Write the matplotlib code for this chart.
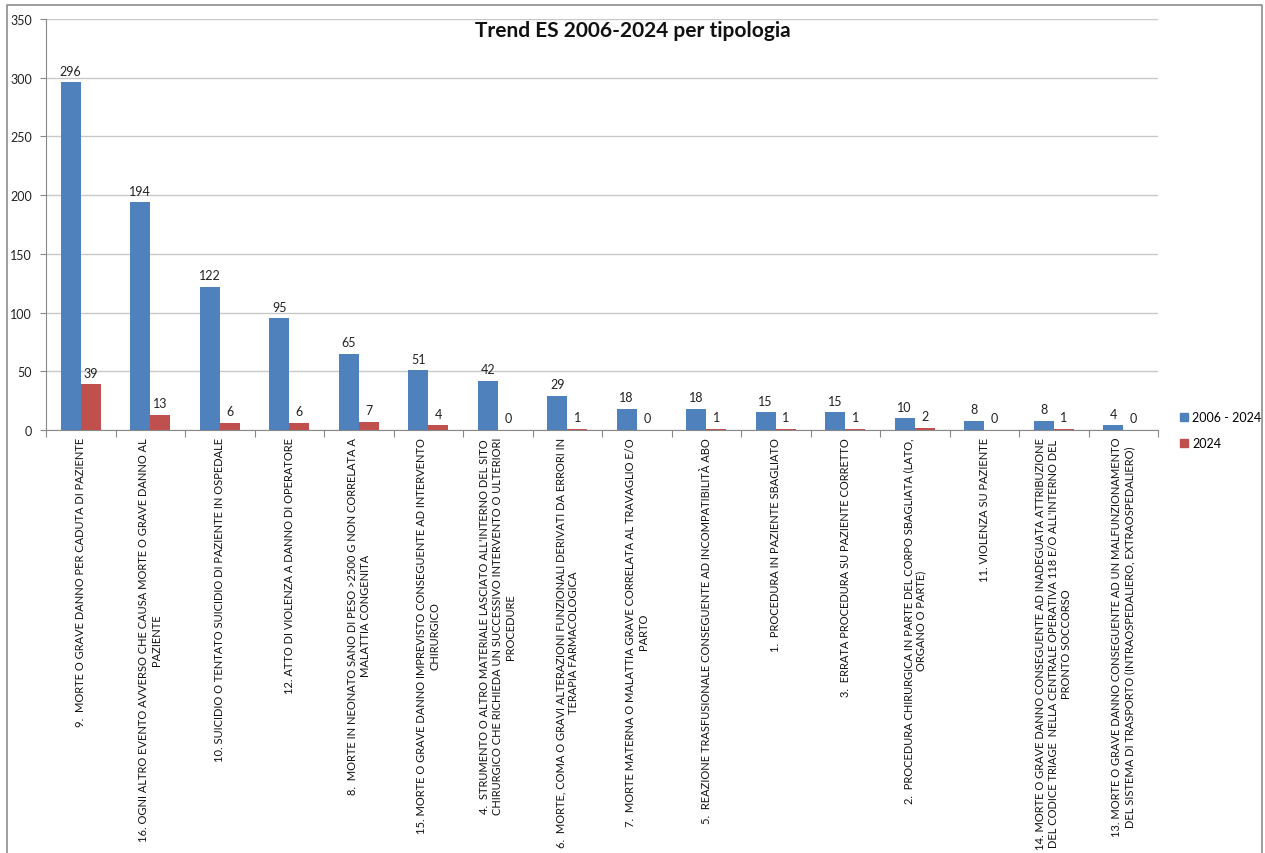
import numpy as np
import matplotlib
matplotlib.use('Agg')
import matplotlib.pyplot as plt
from matplotlib.lines import Line2D

plt.rcParams['font.family'] = ['Lato', 'DejaVu Sans']

categories = [
    "9.  MORTE O GRAVE DANNO PER CADUTA DI PAZIENTE",
    "16. OGNI ALTRO EVENTO AVVERSO CHE CAUSA MORTE O GRAVE DANNO AL\nPAZIENTE",
    "10. SUICIDIO O TENTATO SUICIDIO DI PAZIENTE IN OSPEDALE",
    "12. ATTO DI VIOLENZA A DANNO DI OPERATORE",
    "8.  MORTE IN NEONATO SANO DI PESO >2500 G NON CORRELATA A\nMALATTIA CONGENITA",
    "15. MORTE O GRAVE DANNO IMPREVISTO CONSEGUENTE AD INTERVENTO\nCHIRURGICO",
    "4.  STRUMENTO O ALTRO MATERIALE LASCIATO ALL'INTERNO DEL SITO\nCHIRURGICO CHE RICHIEDA UN SUCCESSIVO INTERVENTO O ULTERIORI\nPROCEDURE",
    "6.  MORTE, COMA O GRAVI ALTERAZIONI FUNZIONALI DERIVATI DA ERRORI IN\nTERAPIA FARMACOLOGICA",
    "7.  MORTE MATERNA O MALATTIA GRAVE CORRELATA AL TRAVAGLIO E/O\nPARTO",
    "5.  REAZIONE TRASFUSIONALE CONSEGUENTE AD INCOMPATIBILITÀ ABO",
    "1.  PROCEDURA IN PAZIENTE SBAGLIATO",
    "3.  ERRATA PROCEDURA SU PAZIENTE CORRETTO",
    "2.  PROCEDURA CHIRURGICA IN PARTE DEL CORPO SBAGLIATA (LATO,\nORGANO O PARTE)",
    "11. VIOLENZA SU PAZIENTE",
    "14. MORTE O GRAVE DANNO CONSEGUENTE AD INADEGUATA ATTRIBUZIONE\nDEL CODICE TRIAGE  NELLA CENTRALE OPERATIVA 118 E/O ALL'INTERNO DEL\nPRONTO SOCCORSO",
    "13. MORTE O GRAVE DANNO CONSEGUENTE AD UN MALFUNZIONAMENTO\nDEL SISTEMA DI TRASPORTO (INTRAOSPEDALIERO, EXTRAOSPEDALIERO)",
]
totale = [296, 194, 122, 95, 65, 51, 42, 29, 18, 18, 15, 15, 10, 8, 8, 4]
anno_2024 = [39, 13, 6, 6, 7, 4, 0, 1, 0, 1, 1, 1, 2, 0, 1, 0]
series_names = ['2006 - 2024', '2024']
yticks = [0, 50, 100, 150, 200, 250, 300, 350]

blue = '#4F81BD'
red = '#C0504D'
W, H = 1265, 854

fig = plt.figure(figsize=(W / 100, H / 100), dpi=100)
ax = fig.add_axes([46 / W, 1 - 431 / H, (1158 - 46) / W, (431 - 20) / H])

x = np.arange(len(categories))
bw = 0.29
b1 = ax.bar(x - bw / 2, totale, bw, color=blue, zorder=3)
b2 = ax.bar(x + bw / 2, anno_2024, bw, color=red, zorder=3)

for bars, vals in [(b1, totale), (b2, anno_2024)]:
    for rect, v in zip(bars, vals):
        ax.annotate(str(v), (rect.get_x() + rect.get_width() / 2, v),
                    xytext=(0, 4), textcoords='offset points',
                    ha='center', va='bottom', fontsize=9, color='#222222')

ax.set_xlim(-0.5, len(categories) - 0.5)
ax.set_ylim(0, 350)
ax.set_yticks(yticks)
ax.yaxis.grid(True, color='#c8c8c8', linewidth=1, zorder=0)
ax.tick_params(axis='y', labelsize=9, length=4, color='#888888', labelcolor='#222222', pad=6)

# category labels rotated, hanging from the axis
ax.set_xticks(np.arange(len(categories) + 1) - 0.5, minor=False)
ax.set_xticklabels([])
ax.tick_params(axis='x', length=5, color='#888888')
for i, lab in enumerate(categories):
    ax.text(i, -0.017, lab, rotation=90, transform=ax.get_xaxis_transform(),
            ha='center', va='top', multialignment='center',
            fontsize=8, color='#111111', linespacing=1.2)

for side in ['top', 'right']:
    ax.spines[side].set_visible(False)
for side in ['left', 'bottom']:
    ax.spines[side].set_color('#888888')

fig.text(0.5, 1 - 31 / H, 'Trend ES 2006-2024 per tipologia', ha='center', va='center',
         fontsize=15, fontweight='bold', color='#111111')

handles = [Line2D([], [], marker='s', linestyle='', markersize=6, color=blue),
           Line2D([], [], marker='s', linestyle='', markersize=6, color=red)]
fig.legend(handles, series_names, loc='center left', bbox_to_anchor=(1166 / W, 1 - 431 / H),
           frameon=False, fontsize=9, handletextpad=0.2, labelspacing=1.1, handlelength=1.0)

# outer chart frame
frame = Line2D([7 / W, 7 / W, 1262 / W, 1262 / W], [0, 1 - 6 / H, 1 - 6 / H, 0],
               transform=fig.transFigure, color='#8c8c8c', linewidth=1.2)
fig.add_artist(frame)

fig.savefig('out.png', dpi=100, facecolor='white')
